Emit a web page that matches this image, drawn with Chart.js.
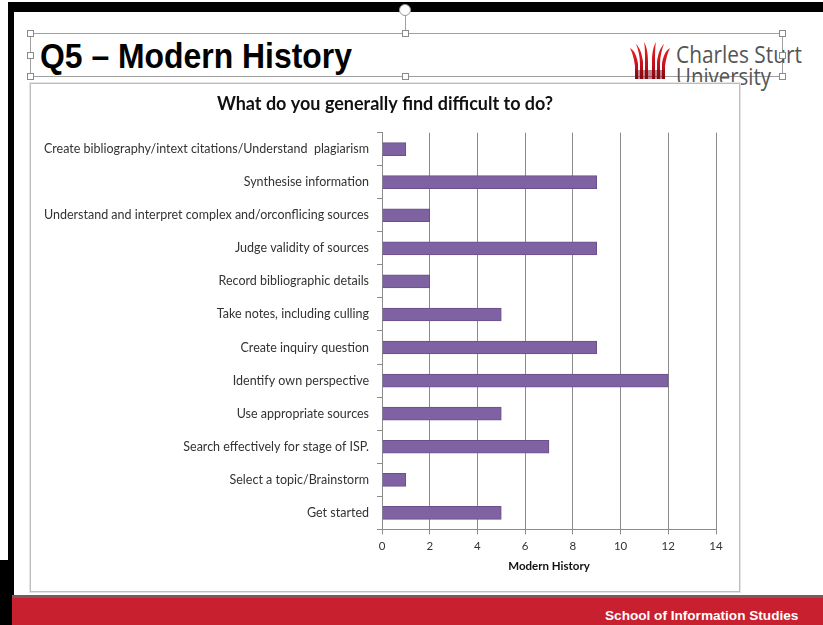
<!DOCTYPE html>
<html><head><meta charset="utf-8">
<script src="https://cdn.jsdelivr.net/npm/chart.js@4.4.1/dist/chart.umd.min.js"></script>
<style>
html,body{margin:0;padding:0;background:#fff;}
body{width:823px;height:625px;position:relative;overflow:hidden;font-family:"Liberation Sans",Arial,sans-serif;}
.abs{position:absolute;}
#topbar{left:8px;top:2px;width:815px;height:10px;background:#000;}
#leftbar{left:8px;top:2px;width:6px;height:623px;background:#000;}
#leftbar2{left:0px;top:560px;width:14px;height:65px;background:#000;}
.selline{background:#a0a0a0;}
.handle{width:7px;height:7px;border:1px solid #8a8a8a;background:#fff;box-sizing:border-box;}
#title{left:40px;top:36px;font-weight:bold;font-size:35px;color:#000;white-space:nowrap;transform-origin:0 0;line-height:40px;}
#csu1{left:676px;top:40px;font-family:"Open Sans",sans-serif;font-size:23px;color:#555;white-space:nowrap;transform-origin:0 0;line-height:28px;}
#csu2{left:676px;top:62px;font-family:"Open Sans",sans-serif;font-size:23px;color:#555;white-space:nowrap;transform-origin:0 0;line-height:28px;}
#chartbox{left:30px;top:83px;width:710px;height:509px;border:1px solid #bdbdbd;box-sizing:border-box;background:#fff;box-shadow:0 0 0 1px #e4e4e4;}
#redband{left:12px;top:595px;width:811px;height:30px;background:#c8202f;border-top:3px solid #7a5a5e;box-sizing:border-box;}
#footer{left:605px;top:608px;font-weight:bold;font-size:13.6px;color:#fff;white-space:nowrap;line-height:16px;}
canvas{position:absolute;left:31px;top:84px;}
</style></head><body>
<div class="abs" id="topbar"></div>
<div class="abs" id="leftbar"></div>
<div class="abs" id="leftbar2"></div>

<!-- title placeholder selection frame -->
<div class="abs selline" style="left:30px;top:33px;width:752px;height:1px;"></div>
<div class="abs selline" style="left:30px;top:76px;width:752px;height:1px;"></div>
<div class="abs selline" style="left:30px;top:33px;width:1px;height:43px;"></div>
<div class="abs selline" style="left:782px;top:33px;width:1px;height:43px;"></div>
<div class="abs selline" style="left:405px;top:12px;width:1px;height:21px;"></div>
<div class="abs" style="left:399px;top:4px;width:12px;height:12px;border:1px solid #999;border-radius:50%;background:#fff;box-sizing:border-box;"></div>

<div class="abs" id="title">Q5 – Modern History</div>

<svg class="abs" style="left:628px;top:40px;" width="44" height="40" viewBox="0 0 44 40">
  <defs>
    <linearGradient id="g" x1="0" y1="0" x2="0" y2="1">
      <stop offset="0" stop-color="#e8201e"/>
      <stop offset="0.6" stop-color="#c4101c"/>
      <stop offset="1" stop-color="#7a0a12"/>
    </linearGradient>
  </defs>
  <path d="M2 8 C6 10 9 16 10 24 L10 39 L7 39 L7 26 C6 18 4 12 2 8Z" fill="url(#g)"/>
  <path d="M8 4 C12 8 14 14 15 22 L15 39 L12 39 L12 24 C12 16 10 9 8 4Z" fill="url(#g)"/>
  <path d="M16 2 C19 7 20 14 20 22 L20 39 L17 39 L17 22 C17 14 17 7 16 2Z" fill="url(#g)"/>
  <path d="M28 2 C25 7 24 14 24 22 L24 39 L27 39 L27 22 C27 14 27 7 28 2Z" fill="url(#g)"/>
  <path d="M36 4 C32 8 30 14 29 22 L29 39 L32 39 L32 24 C32 16 34 9 36 4Z" fill="url(#g)"/>
  <path d="M42 8 C38 10 35 16 34 24 L34 39 L37 39 L37 26 C38 18 40 12 42 8Z" fill="url(#g)"/>
  <rect x="7" y="30" width="30" height="9" fill="#8a0a14" opacity="0.5"/>
</svg>
<div class="abs" id="csu1">Charles Sturt</div>
<div class="abs" id="csu2">University</div>

<div class="abs handle" style="left:27px;top:30px;"></div>
<div class="abs handle" style="left:402px;top:30px;"></div>
<div class="abs handle" style="left:779px;top:30px;"></div>
<div class="abs handle" style="left:27px;top:52px;"></div>
<div class="abs handle" style="left:779px;top:52px;"></div>
<div class="abs handle" style="left:27px;top:73px;"></div>
<div class="abs handle" style="left:402px;top:73px;"></div>
<div class="abs handle" style="left:779px;top:73px;"></div>

<div class="abs" id="chartbox"></div>
<canvas id="c" width="708" height="507"></canvas>

<div class="abs" id="redband"></div>
<div class="abs" id="footer">School of Information Studies</div>

<script>
const categories = [
  "Create bibliography/intext citations/Understand  plagiarism",
  "Synthesise information",
  "Understand and interpret complex and/orconflicing sources",
  "Judge validity of sources",
  "Record bibliographic details",
  "Take notes, including culling",
  "Create inquiry question",
  "Identify own perspective",
  "Use appropriate sources",
  "Search effectively for stage of ISP.",
  "Select a topic/Brainstorm",
  "Get started"
];
const modernHistory = [1, 9, 2, 9, 2, 5, 9, 12, 5, 7, 1, 5];
const xTickValues = [0, 2, 4, 6, 8, 10, 12, 14];
const seriesName = "Modern History";
const chartTitle = "What do you generally find difficult to do?";

function fitWidth(id, target) {
  const el = document.getElementById(id);
  const w = el.getBoundingClientRect().width;
  el.style.transform = 'scaleX(' + (target / w) + ')';
}
fitWidth('title', 312);
fitWidth('csu1', 126);
fitWidth('csu2', 95);

// center the chart title on the full canvas width
const centerTitle = {
  id: 'centerTitle',
  afterLayout(chart) {
    const t = chart.titleBlock;
    if (t) { t.left = 0; t.right = chart.width; t.width = chart.width; }
  }
};

const labelFont = "Lato";
new Chart(document.getElementById('c'), {
  type: 'bar',
  data: {
    labels: categories,
    datasets: [{
      label: seriesName,
      data: modernHistory,
      backgroundColor: '#7f62a1',
      borderColor: '#6a4f8c',
      borderWidth: 1,
      barThickness: 13
    }]
  },
  plugins: [centerTitle],
  options: {
    indexAxis: 'y',
    responsive: false,
    animation: false,
    layout: { padding: { left: 0, right: 23, top: 0, bottom: 18 } },
    plugins: {
      legend: { display: false },
      tooltip: { enabled: false },
      title: {
        display: true,
        text: chartTitle,
        color: '#111',
        font: { family: labelFont, size: 18, weight: 'bold' },
        padding: { top: 9, bottom: 18 }
      }
    },
    scales: {
      x: {
        min: 0, max: 14,
        afterBuildTicks: (s) => { s.ticks = xTickValues.map(v => ({ value: v })); },
        ticks: { color: '#333', font: { family: labelFont, size: 11.5 }, padding: 5 },
        grid: { color: '#8c8c8c', tickLength: 5, drawTicks: true },
        border: { color: '#8c8c8c' },
        title: { display: true, text: seriesName, color: '#111', font: { family: labelFont, size: 11.5, weight: 'bold' }, padding: { top: 1, bottom: 0 } }
      },
      y: {
        afterFit: (s) => { s.width = 351; },
        ticks: { color: '#333', font: { family: labelFont, size: 12.5 }, padding: 8, autoSkip: false },
        grid: { offset: true, drawOnChartArea: false, color: '#8c8c8c', tickLength: 5 },
        border: { color: '#8c8c8c' }
      }
    }
  }
});
</script>
</body></html>
